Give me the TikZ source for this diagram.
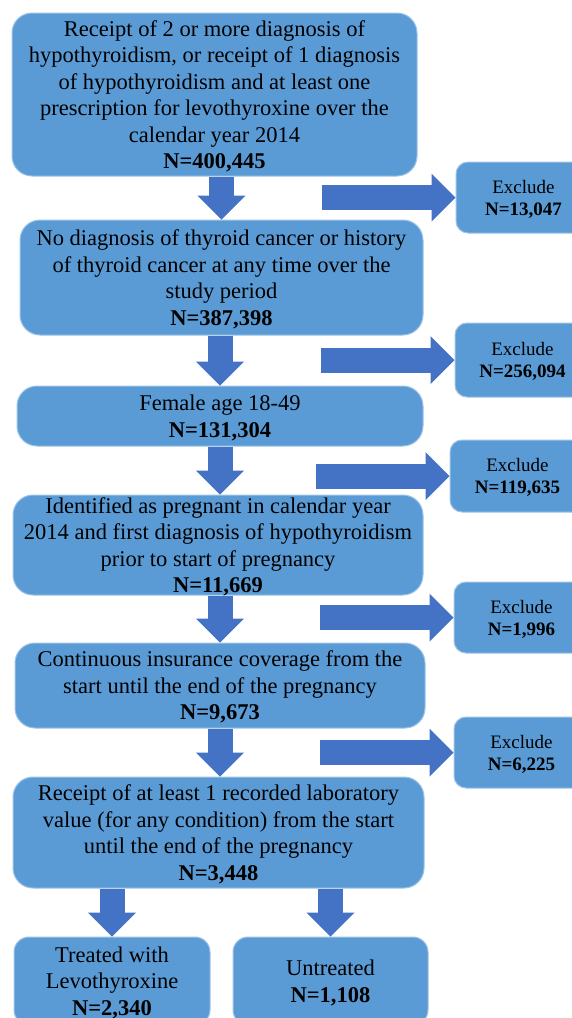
\documentclass[tikz,border=0pt]{standalone}
\usepackage{fontspec}
\setmainfont{Liberation Serif}
\usepackage{xcolor}
\usepackage{tikz}
\usetikzlibrary{arrows.meta,positioning,calc}
\definecolor{BoxBlue}{HTML}{5B9BD5}
\definecolor{EdgeBlue}{HTML}{9DC3E6}
\definecolor{ArrowBlue}{HTML}{4472C4}

\begin{document}
\begin{tikzpicture}[x=1pt,y=-1pt,v/.style={draw=EdgeBlue,fill=BoxBlue,line width=1pt,rounded corners=20pt,align=center,inner sep=0pt,font=\fontsize{22.5}{26.5}\selectfont,text depth=-4pt},ex/.style={v,rounded corners=12pt,minimum width=135pt,minimum height=71pt,font=\fontsize{19}{22}\selectfont},arr/.style={draw=ArrowBlue,line width=25pt,-{Triangle[length=24pt,width=48pt,line width=0pt]}}]
\useasboundingbox (0,0) rectangle (572,1018);
\node[v,minimum width=405pt,minimum height=163pt] (a) at (214.5,94.5) {Receipt of 2 or more diagnosis of\\hypothyroidism, or receipt of 1 diagnosis\\of hypothyroidism and at least one\\prescription for levothyroxine over the\\calendar year 2014\\\textbf{N=400,445}};
\node[v,minimum width=403pt,minimum height=115pt] (b) at (221.5,277.5) {No diagnosis of thyroid cancer or history\\of thyroid cancer at any time over the\\study period\\\textbf{N=387,398}};
\node[v,minimum width=406pt,minimum height=60pt] (c) at (220,416) {Female age 18-49\\\textbf{N=131,304}};
\node[v,minimum width=410pt,minimum height=100pt] (d) at (218,545) {Identified as pregnant in calendar year\\2014 and first diagnosis of hypothyroidism\\prior to start of pregnancy\\\textbf{N=11,669}};
\node[v,minimum width=410pt,minimum height=85pt] (e) at (220,685.5) {Continuous insurance coverage from the\\start until the end of the pregnancy\\\textbf{N=9,673}};
\node[v,minimum width=411pt,minimum height=111pt] (f) at (218.5,832.5) {Receipt of at least 1 recorded laboratory\\value (for any condition) from the start\\until the end of the pregnancy\\\textbf{N=3,448}};
\node[v,rounded corners=15pt,minimum width=196pt,minimum height=88pt] (treat) at (112,981) {Treated with\\Levothyroxine\\\textbf{N=2,340}};
\node[v,rounded corners=15pt,minimum width=195pt,minimum height=88pt] (untreat) at (330.5,981) {Untreated\\\textbf{N=1,108}};
% exclusions
\node[ex] (x1) at (523.5,197.5) {Exclude\\\textbf{N=13,047}};
\node[ex,minimum height=74pt] (x2) at (522.5,360) {Exclude\\\textbf{N=256,094}};
\node[ex,minimum height=72pt] (x3) at (517.5,476) {Exclude\\\textbf{N=119,635}};
\node[ex] (x4) at (521.5,617.5) {Exclude\\\textbf{N=1,996}};
\node[ex] (x5) at (521.5,752.5) {Exclude\\\textbf{N=6,225}};
\draw[arr] (b.north |- a.south)--(b.north);
\draw[arr] (c.north |- b.south)--(c.north);
\draw[arr] (c.south)--(c.south |- d.north);
\draw[arr] (e.north |- d.south)--(e.north);
\draw[arr] (e.south)--(e.south |- f.north);
\draw[arr] (treat.north |- f.south)--(treat.north);
\draw[arr] (untreat.north |- f.south)--(untreat.north);
\draw[arr] ([xshift=-134pt]x1.west)--(x1.west);
\draw[arr] ([xshift=-134pt]x2.west)--(x2.west);
\draw[arr] ([xshift=-134pt]x3.west)--(x3.west);
\draw[arr] ([xshift=-134pt]x4.west)--(x4.west);
\draw[arr] ([xshift=-134pt]x5.west)--(x5.west);
\end{tikzpicture}
\end{document}
